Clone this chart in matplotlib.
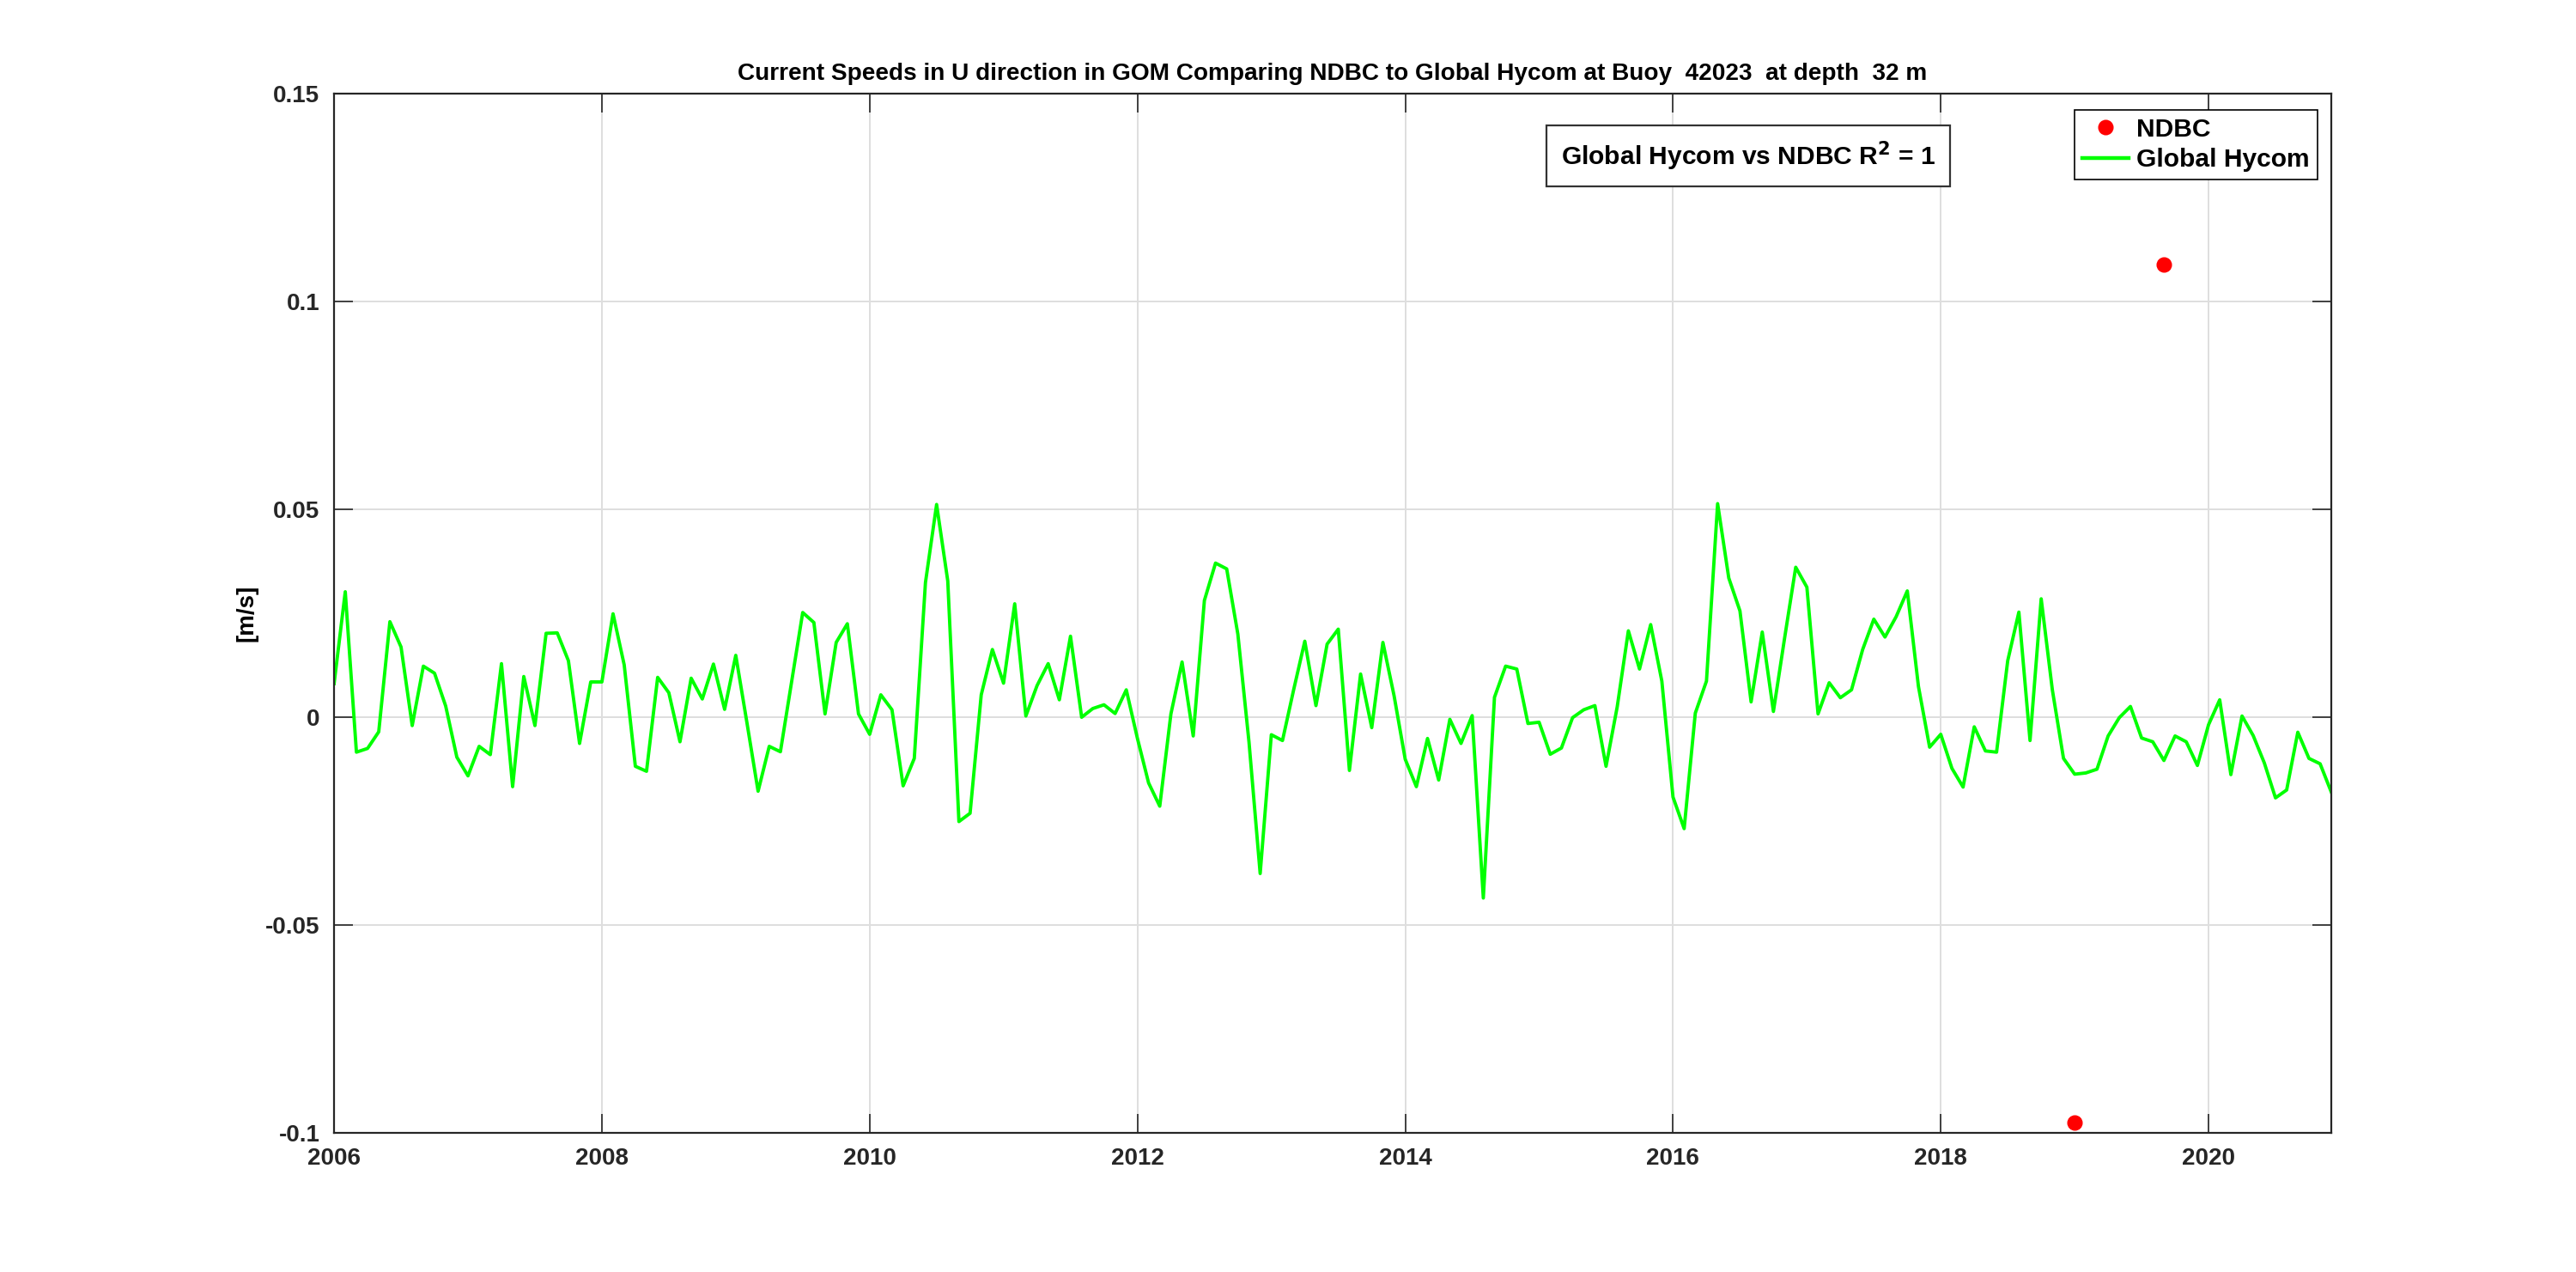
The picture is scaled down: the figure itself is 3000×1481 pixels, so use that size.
# ============================================
# CURRENT SPEEDS (U) - NDBC vs GLOBAL HYCOM
# ============================================

import numpy as np
import matplotlib
matplotlib.use("Agg")
import matplotlib.pyplot as plt
from matplotlib.lines import Line2D

# ============================================
# DATA
# ============================================

# Global Hycom monthly U current [m/s], Jan 2006 .. Dec 2020
start_year = 2006
hycom_u = [
    0.0081, 0.0302, -0.0084, -0.0075, -0.0035, 0.0230, 0.0169, -0.0020, 0.0123, 0.0106, 0.0027, -0.0096,
    -0.0141, -0.0070, -0.0090, 0.0129, -0.0167, 0.0098, -0.0020, 0.0202, 0.0203, 0.0136, -0.0063, 0.0085,
    0.0085, 0.0249, 0.0126, -0.0118, -0.0130, 0.0096, 0.0059, -0.0059, 0.0094, 0.0044, 0.0128, 0.0019,
    0.0149, -0.0013, -0.0178, -0.0070, -0.0083, 0.0085, 0.0252, 0.0228, 0.0008, 0.0180, 0.0225, 0.0008,
    -0.0041, 0.0054, 0.0018, -0.0165, -0.0099, 0.0324, 0.0512, 0.0328, -0.0251, -0.0231, 0.0054, 0.0163,
    0.0082, 0.0273, 0.0003, 0.0076, 0.0129, 0.0042, 0.0195, 0.0000, 0.0021, 0.0030, 0.0009, 0.0066,
    -0.0051, -0.0158, -0.0214, 0.0008, 0.0133, -0.0045, 0.0281, 0.0371, 0.0357, 0.0200, -0.0060, -0.0376,
    -0.0042, -0.0056, 0.0066, 0.0183, 0.0028, 0.0176, 0.0212, -0.0128, 0.0104, -0.0025, 0.0180, 0.0052,
    -0.0101, -0.0167, -0.0051, -0.0151, -0.0005, -0.0063, 0.0004, -0.0435, 0.0048, 0.0123, 0.0116, -0.0015,
    -0.0012, -0.0089, -0.0074, -0.0001, 0.0018, 0.0028, -0.0118, 0.0025, 0.0208, 0.0116, 0.0223, 0.0087,
    -0.0192, -0.0268, 0.0010, 0.0087, 0.0514, 0.0335, 0.0256, 0.0037, 0.0205, 0.0014, 0.0190, 0.0361,
    0.0313, 0.0008, 0.0083, 0.0047, 0.0066, 0.0163, 0.0236, 0.0193, 0.0242, 0.0304, 0.0074, -0.0072,
    -0.0041, -0.0123, -0.0168, -0.0023, -0.0081, -0.0084, 0.0136, 0.0253, -0.0056, 0.0285, 0.0066, -0.0099,
    -0.0137, -0.0134, -0.0125, -0.0045, -0.0001, 0.0026, -0.0050, -0.0059, -0.0104, -0.0045, -0.0059, -0.0116,
    -0.0018, 0.0042, -0.0138, 0.0003, -0.0044, -0.0110, -0.0194, -0.0175, -0.0036, -0.0099, -0.0112, -0.0180,
]

# NDBC observations (decimal year, U [m/s])
ndbc_time = [2019.0, 2019.667]
ndbc_u = [-0.0975, 0.1089]

x_ticks = [2006, 2008, 2010, 2012, 2014, 2016, 2018, 2020]
y_ticks = [-0.1, -0.05, 0, 0.05, 0.1, 0.15]
y_tick_labels = ["-0.1", "-0.05", "0", "0.05", "0.1", "0.15"]

buoy = "42023"
depth = "32"

# ============================================
# PLOT
# ============================================

plt.rcParams["font.family"] = ["Liberation Sans", "DejaVu Sans"]
plt.rcParams["font.weight"] = "bold"

hycom_time = start_year + np.arange(len(hycom_u)) / 12.0

fig = plt.figure(figsize=(15, 7.405), dpi=200)
ax = fig.add_axes([0.1297, 0.1094, 0.9050 - 0.1297, 0.9262 - 0.1094])

ax.plot(ndbc_time, ndbc_u, "o", color="#ff0000", markersize=5.5, label="NDBC")
ax.plot(hycom_time, hycom_u, "-", color="#00ff00", linewidth=1.4, label="Global Hycom")

ax.set_xlim(hycom_time[0], hycom_time[-1])
ax.set_ylim(-0.1, 0.15)
ax.set_xticks(x_ticks)
ax.set_xticklabels([str(t) for t in x_ticks])
ax.set_yticks(y_ticks)
ax.set_yticklabels(y_tick_labels)

ax.grid(True, color="#dedede", linewidth=0.7)
ax.set_axisbelow(True)
ax.tick_params(direction="in", length=8, width=0.6, top=True, right=True,
               labelsize=10, colors="#262626", pad=6)
for s in ax.spines.values():
    s.set_color("#262626")
    s.set_linewidth(0.8)

ax.set_ylabel("[m/s]", fontsize=10, fontweight="bold", labelpad=3)
ax.set_title("Current Speeds in U direction in GOM Comparing NDBC to Global Hycom at Buoy  "
             + buoy + "  at depth  " + depth + " m", fontsize=10.1, fontweight="bold", pad=6)

# R^2 annotation box
fig.text(0.6787, 0.8775, r"Global Hycom vs NDBC R$^\mathbf{2}$ = 1", fontsize=10.8,
         fontweight="bold", ha="center", va="center",
         bbox=dict(boxstyle="square,pad=0.55", facecolor="white", edgecolor="#333333", linewidth=0.8))

handles = [
    Line2D([], [], marker="o", linestyle="none", color="#ff0000", markersize=5.5),
    Line2D([], [], color="#00ff00", linewidth=1.6),
]
leg = ax.legend(handles, ["NDBC", "Global Hycom"], loc="upper right",
                bbox_to_anchor=(0.8995, 0.9136), bbox_transform=fig.transFigure,
                borderaxespad=0, fancybox=False, framealpha=1, edgecolor="#000000",
                fontsize=10.8, handlelength=1.8, handletextpad=0.3, borderpad=0.3,
                labelspacing=0.25)
leg.get_frame().set_linewidth(0.6)

fig.savefig("out.png", dpi=200, facecolor="white")
